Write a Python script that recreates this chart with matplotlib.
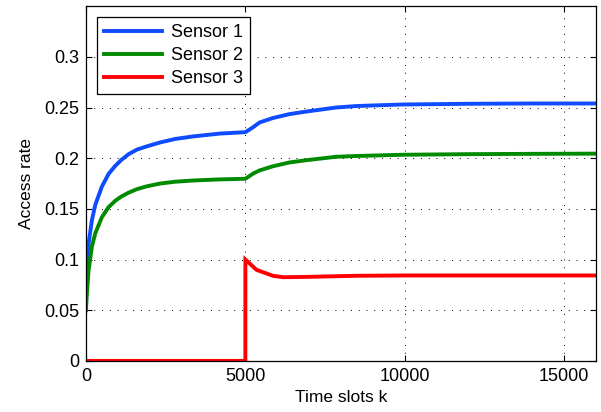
import matplotlib
matplotlib.use("Agg")
import matplotlib.pyplot as plt

# Data
k1 = [0, 31, 84, 188, 293, 500, 710, 920, 1100, 1337, 1600, 1900, 2320, 2800, 3360, 4200, 5000,
      5230, 5440, 5857, 6380, 6900, 7840, 8490, 9940, 12000, 14000, 16000]
sensor1 = [0.065, 0.0898, 0.116, 0.139, 0.154, 0.172, 0.1845, 0.1925, 0.198, 0.204, 0.2085,
           0.2116, 0.2155, 0.219, 0.2215, 0.2243, 0.2257,
           0.2303, 0.2352, 0.2396, 0.2435, 0.246, 0.250, 0.2515, 0.253, 0.2537, 0.254, 0.254]
sensor2 = [0.05, 0.067, 0.0898, 0.113, 0.126, 0.1418, 0.1517, 0.158, 0.162, 0.166, 0.1695,
           0.1722, 0.175, 0.1768, 0.178, 0.1791, 0.1797,
           0.1846, 0.1879, 0.192, 0.1958, 0.198, 0.2014, 0.2022, 0.2034, 0.204, 0.2043, 0.2045]
k3 = [0, 4999, 5000, 5350, 5870, 6185, 6920, 8490, 9940, 12000, 16000]
sensor3 = [0.0, 0.0, 0.1, 0.0898, 0.0839, 0.0826, 0.0829, 0.0840, 0.0843, 0.0843, 0.0843]

xticks = [0, 5000, 10000, 15000]
yticks = [0, 0.05, 0.1, 0.15, 0.2, 0.25, 0.3]

plt.rcParams['font.family'] = ['Liberation Sans', 'DejaVu Sans']
plt.rcParams['font.size'] = 12.5

fig = plt.figure(figsize=(6.01, 4.12), dpi=100)
ax = fig.add_axes([0.143, 0.124, 0.849, 0.861])

ax.plot(k1, sensor1, color='#0f4bff', lw=2.8, label='Sensor 1', solid_joinstyle='round')
ax.plot(k1, sensor2, color='#008a00', lw=2.8, label='Sensor 2', solid_joinstyle='round')
ax.plot(k3, sensor3, color='#ff0000', lw=2.8, label='Sensor 3', solid_joinstyle='miter')

ax.set_xlim(0, 16000)
ax.set_ylim(0, 0.35)
ax.set_xticks(xticks)
ax.set_yticks(yticks)
ax.set_yticklabels(['0', '0.05', '0.1', '0.15', '0.2', '0.25', '0.3'])
ax.set_xticklabels([str(t) for t in xticks])
ax.grid(True, color='black', linestyle=(0, (1, 7)), linewidth=0.7)
ax.tick_params(direction='in', top=True, right=True, length=4, width=0.8, pad=5,
               labelsize=13)
for s in ax.spines.values():
    s.set_linewidth(0.9)

ax.set_xlabel('Time slots k', labelpad=4, fontsize=12.5)
ax.set_ylabel('Access rate', labelpad=7, fontsize=12.5)

leg = ax.legend(loc='upper left', fancybox=False, framealpha=1, edgecolor='black',
                borderaxespad=0.6, handlelength=3.2, labelspacing=0.33, borderpad=0.4,
                handletextpad=0.5, fontsize=13)
leg.get_frame().set_linewidth(0.9)

fig.savefig('out.png', dpi=100)
